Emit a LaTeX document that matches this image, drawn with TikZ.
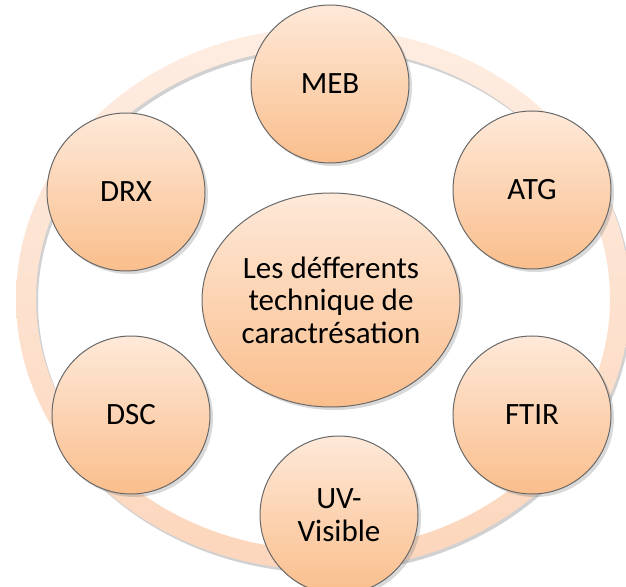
\documentclass[tikz,border=0pt]{standalone}
\usepackage{fontspec}
\setmainfont{Carlito}
\usetikzlibrary{shapes.geometric, shadows}

\definecolor{peachtop}{RGB}{254,233,217}
\definecolor{peachbot}{RGB}{250,190,140}
\definecolor{ringtop}{RGB}{254,237,226}
\definecolor{ringbot}{RGB}{252,214,188}
\definecolor{rimgray}{RGB}{105,105,105}

\begin{document}
\begin{tikzpicture}[x=0.5pt, y=-0.5pt,
  every technique/.style={circle, draw=rimgray, line width=0.5pt,
    top color=peachtop, bottom color=peachbot,
    minimum size=79pt, inner sep=0pt, align=center,
    font=\fontsize{15.5}{16.2}\selectfont,
    drop shadow={shadow xshift=1.5pt, shadow yshift=-1.5pt, opacity=0.3}},
  hub/.style={every technique, ellipse, minimum width=129pt, minimum height=107pt}]

\useasboundingbox (0,0) rectangle (626,587);

% pale ring behind the circles, with its own shadow
\fill [black, opacity=0.18, even odd rule]
  (325,302) ellipse [x radius=307, y radius=271]
  (325,302) ellipse [x radius=287, y radius=251];
\shade [even odd rule, top color=ringtop, bottom color=ringbot]
  (323,299) ellipse [x radius=307, y radius=271]
  (323,299) ellipse [x radius=287, y radius=251];

\node [hub] (hub) at (331,300) {Les défferents\\technique de\\caractrésation};

\foreach \m/\l/\x/\y in {meb/MEB/330/84, atg/ATG/532/190, ftir/FTIR/532/415,
    uv/{UV-\\Visible}/339/515, dsc/DSC/131/415, drx/DRX/126/192}
  \node [every technique] (tech-\m) at (\x,\y) {\l};

\end{tikzpicture}
\end{document}
